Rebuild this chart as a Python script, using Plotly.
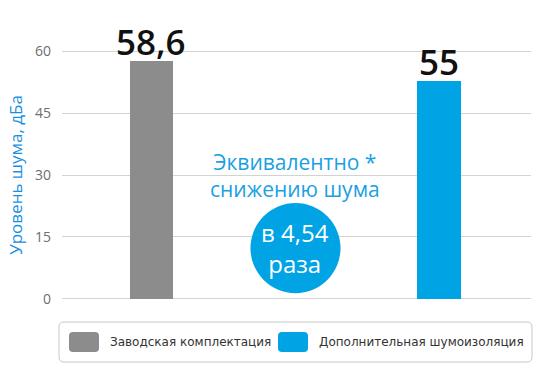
import plotly.graph_objects as go

# data
categories = ["Заводская комплектация", "Дополнительная шумоизоляция"]
values = [57.7, 52.8]
value_labels = ["58,6", "55"]
colors = ["#8c8c8c", "#00a3e4"]
y_ticks = [0, 15, 30, 45, 60]
y_title = "Уровень шума, дБа"
note_lines = ["Эквивалентно *", "снижению шума"]
badge_lines = ["в 4,54", "раза"]

fig = go.Figure()
for i, (name, v, col, lab) in enumerate(zip(categories, values, colors, value_labels)):
    fig.add_trace(go.Bar(
        x=[i], y=[v], name=name, marker=dict(color=col, line=dict(width=0)),
        width=0.15, cliponaxis=False,
        showlegend=False, hoverinfo="skip",
    ))
    fig.add_annotation(x=i, y=v, xref="x", yref="y", text=lab, showarrow=False,
                       xanchor="center", yanchor="bottom", yshift=-6,
                       font=dict(family="Open Sans", size=35, color="#111111", weight=600))

fig.update_layout(
    width=540, height=380,
    margin=dict(l=62, r=9, t=49, b=79, autoexpand=False),
    plot_bgcolor="white", paper_bgcolor="white",
    bargap=0,
    xaxis=dict(range=[-0.31, 1.32], visible=False, fixedrange=True, automargin=False),
    yaxis=dict(
        range=[-0.5, 60.5], tickvals=y_ticks, showgrid=True, automargin=False,
        gridcolor="#d3d3d3", gridwidth=1, zeroline=False, showline=False,
        ticks="", ticklabelstandoff=10, fixedrange=True,
        tickfont=dict(family="Open Sans", size=14, color="#6e6e6e"),
        title=dict(text=y_title, standoff=8,
                   font=dict(family="Open Sans", size=17, color="#1a8fe0")),
    ),
)

# note text
fig.add_annotation(x=0.5, y=0.5, xref="x", yref="paper", showarrow=False,
                   text="<br>".join(note_lines),
                   font=dict(family="Open Sans", size=21, color="#1a9fe3"),
                   xanchor="center", yanchor="middle")

# badge circle
fig.add_shape(type="circle", xref="x", yref="y",
              x0=0.345, x1=0.658, y0=1.4, y1=23.2,
              fillcolor="#00a3e4", line=dict(width=0), layer="above")
fig.add_annotation(x=0.5, y=12.3, xref="x", yref="y", showarrow=False,
                   text="<br>".join(badge_lines),
                   font=dict(family="Open Sans", size=24, color="white"),
                   xanchor="center", yanchor="middle")

# custom legend box (paper coords)
W, H = 540.0, 380.0
pl, pb, pw, ph = 62.0, 79.0, 540.0 - 62 - 9, 380.0 - 49 - 79

def px(x):
    return (x - pl) / pw

def py(y):
    return ((H - y) - pb) / ph

def rrect(x0, y0, x1, y1, r):
    return (f"M{px(x0+r)},{py(y0)} L{px(x1-r)},{py(y0)} Q{px(x1)},{py(y0)} {px(x1)},{py(y0+r)} "
            f"L{px(x1)},{py(y1-r)} Q{px(x1)},{py(y1)} {px(x1-r)},{py(y1)} "
            f"L{px(x0+r)},{py(y1)} Q{px(x0)},{py(y1)} {px(x0)},{py(y1-r)} "
            f"L{px(x0)},{py(y0+r)} Q{px(x0)},{py(y0)} {px(x0+r)},{py(y0)} Z")

fig.add_shape(type="path", xref="paper", yref="paper", path=rrect(59, 322, 532, 362, 5),
              line=dict(color="#c8c8c8", width=1), fillcolor="white")
swatches = [(69, 99, 108), (278, 308, 317)]
for (sx0, sx1, tx), name, col in zip(swatches, categories, colors):
    fig.add_shape(type="path", xref="paper", yref="paper", path=rrect(sx0, 332, sx1, 352, 4),
                  line=dict(width=0), fillcolor=col)
    fig.add_annotation(x=px(tx), y=py(342), xref="paper", yref="paper", showarrow=False,
                       text=name, xanchor="left", yanchor="middle",
                       font=dict(family="DejaVu Sans", size=12, color="#333333"))

fig.write_html("out.html", config={"displayModeBar": False},
               post_script="document.body.style.margin='0';document.body.style.overflow='hidden';")
